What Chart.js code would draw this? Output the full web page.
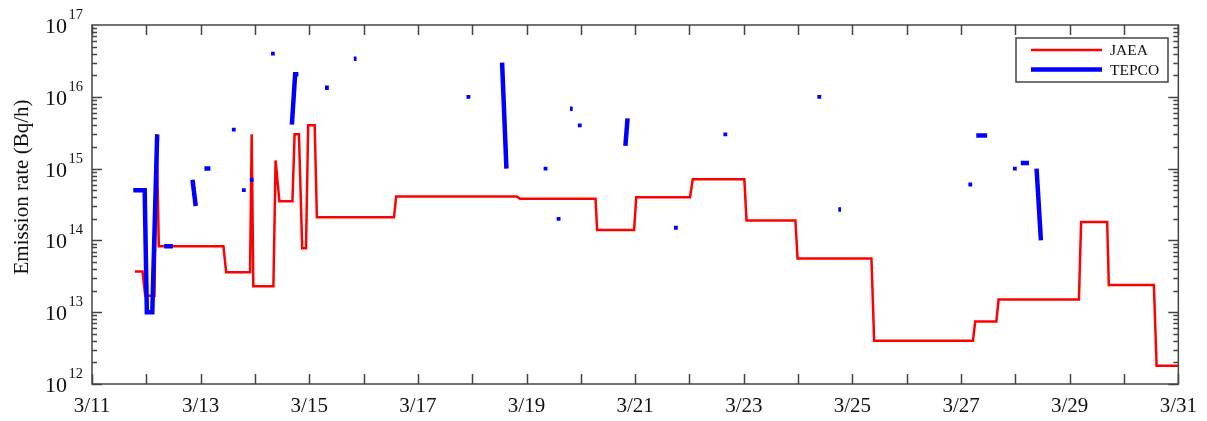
<!DOCTYPE html>
<html>
<head>
<meta charset="utf-8">
<script src="https://cdn.jsdelivr.net/npm/chart.js@4.4.3/dist/chart.umd.min.js"></script>
<style>
  html, body { margin: 0; padding: 0; background: #fff; }
  #wrap { width: 1207px; height: 421px; }
</style>
</head>
<body>
<div id="wrap"><canvas id="emissionChart" width="1207" height="421"></canvas></div>
<script>
// days of March (fractional), emission rate in Bq/h
const jaeaDay = [11.79, 11.93, 11.98, 12.15, 12.19, 12.23, 13.42, 13.47, 13.91, 13.94, 13.97,
  14.34, 14.38, 14.45, 14.69, 14.73, 14.81, 14.87, 14.94, 14.98, 15.10, 15.14, 16.56, 16.60,
  18.82, 18.88, 20.27, 20.30, 20.98, 21.02, 22.01, 22.06, 23.01, 23.05, 23.95, 23.99, 25.35,
  25.40, 27.22, 27.26, 27.65, 27.69, 29.17, 29.21, 29.69, 29.72, 30.55, 30.60, 31.0];
const jaeaRate = [3.7e13, 3.7e13, 1.7e13, 1.7e13, 3.0e15, 8.3e13, 8.3e13, 3.6e13, 3.6e13, 3.0e15, 2.3e13,
  2.3e13, 1.3e15, 3.5e14, 3.5e14, 3.0e15, 3.0e15, 7.8e13, 7.8e13, 4.0e15, 4.0e15, 2.1e14, 2.1e14, 4.1e14,
  4.1e14, 3.8e14, 3.8e14, 1.4e14, 1.4e14, 4.0e14, 4.0e14, 7.1e14, 7.1e14, 1.9e14, 1.9e14, 5.6e13, 5.6e13,
  4.0e12, 4.0e12, 7.4e12, 7.4e12, 1.5e13, 1.5e13, 1.8e14, 1.8e14, 2.4e13, 2.4e13, 1.8e12, 1.8e12];

// null separates TEPCO estimates
const tepcoDay = [11.76, 11.97, 12.01, 12.11, 12.20, null,
  12.33, 12.49, null, 12.85, 12.91, null, 13.07, 13.18, null,
  13.61, null, 13.795, null, 13.94, null, 14.33, null,
  14.68, 14.74, 14.80, null, 15.29, 15.36, null, 15.82, 15.87, null,
  17.93, null, 18.55, 18.63, null, 19.35, null, 19.59, null,
  19.80, 19.85, null, 19.98, null, 20.86, 20.82, null, 21.75, null,
  22.66, null, 24.39, null, 24.74, 24.79, null, 27.17, null,
  27.28, 27.48, null, 27.99, null, 28.10, 28.25, null, 28.39, 28.47];
const tepcoRate = [5e14, 5e14, 1e13, 1e13, 3e15, null,
  8.3e13, 8.3e13, null, 7e14, 3e14, null, 1e15, 1e15, null,
  3.5e15, null, 5e14, null, 7e14, null, 4e16, null,
  4.1e15, 2.06e16, 2.06e16, null, 1.34e16, 1.34e16, null, 3.4e16, 3.4e16, null,
  1e16, null, 3e16, 1e15, null, 1e15, null, 2e14, null,
  6.8e15, 6.8e15, null, 4e15, null, 5e15, 2.07e15, null, 1.5e14, null,
  3e15, null, 1e16, null, 2.7e14, 2.7e14, null, 6e14, null,
  2.9e15, 2.9e15, null, 1e15, null, 1.2e15, 1.2e15, null, 1e15, 1e14];

const dayTicks = [11, 12, 13, 14, 15, 16, 17, 18, 19, 20, 21, 22, 23, 24, 25, 26, 27, 28, 29, 30, 31];
const labelDays = [11, 13, 15, 17, 19, 21, 23, 25, 27, 29, 31];
const labelText = ['3/11', '3/13', '3/15', '3/17', '3/19', '3/21', '3/23', '3/25', '3/27', '3/29', '3/31'];
const decades = [12, 13, 14, 15, 16, 17];

const SERIF = "'Liberation Serif', 'Times New Roman', serif";
const AXIS = '#444';

const isolatedRadius = (ctx) => {
  const d = ctx.dataset.data, i = ctx.dataIndex;
  if (!d[i] || d[i].y == null) return 0;
  const prev = d[i - 1], next = d[i + 1];
  return (!prev || prev.y == null) && (!next || next.y == null) ? 2.7 : 0;
};

// frame, inward ticks, 10^n labels, y title and boxed legend
const axisDecor = {
  id: 'axisDecor',
  afterDatasetsDraw(chart) {
    const { ctx, chartArea: a, scales: { x, y } } = chart;
    ctx.save();
    ctx.strokeStyle = AXIS;
    ctx.lineWidth = 1.5;
    ctx.strokeRect(a.left, a.top, a.right - a.left, a.bottom - a.top);

    ctx.beginPath();
    dayTicks.forEach(d => {
      const px = Math.round(x.getPixelForValue(d)) + 0.5;
      ctx.moveTo(px, a.bottom); ctx.lineTo(px, a.bottom - 10);
      ctx.moveTo(px, a.top); ctx.lineTo(px, a.top + 10);
    });
    decades.slice(0, -1).forEach(e => {
      for (let m = 1; m < 10; m++) {
        const py = Math.round(y.getPixelForValue(m * 10 ** e)) + 0.5;
        const len = m === 1 ? 10 : 5;
        ctx.moveTo(a.left, py); ctx.lineTo(a.left + len, py);
        ctx.moveTo(a.right, py); ctx.lineTo(a.right - len, py);
      }
    });
    ctx.stroke();

    ctx.fillStyle = '#111';
    decades.forEach(e => {
      const py = y.getPixelForValue(10 ** e);
      ctx.font = `22px ${SERIF}`;
      ctx.textAlign = 'right';
      ctx.textBaseline = 'alphabetic';
      ctx.fillText('10', 67, py + 8);
      ctx.font = `14.5px ${SERIF}`;
      ctx.textAlign = 'left';
      ctx.fillText(String(e), 68.5, py - 6);
    });

    ctx.save();
    ctx.translate(22, 187);
    ctx.rotate(-Math.PI / 2);
    ctx.font = `21px ${SERIF}`;
    ctx.textAlign = 'center';
    ctx.textBaseline = 'middle';
    ctx.fillText('Emission rate (Bq/h)', 0, 0);
    ctx.restore();

    // legend
    ctx.fillStyle = '#fff';
    ctx.fillRect(1016, 38, 152, 44);
    ctx.strokeStyle = AXIS;
    ctx.lineWidth = 1.5;
    ctx.strokeRect(1016, 38, 152, 44);
    const rows = [50, 69.5];
    chart.data.datasets.forEach((ds, i) => {
      ctx.beginPath();
      ctx.strokeStyle = ds.borderColor;
      ctx.lineWidth = ds.borderWidth;
      ctx.moveTo(1031, rows[i]);
      ctx.lineTo(1102, rows[i]);
      ctx.stroke();
      ctx.fillStyle = '#111';
      ctx.font = `15.5px ${SERIF}`;
      ctx.textAlign = 'left';
      ctx.textBaseline = 'middle';
      ctx.fillText(ds.label, 1110, rows[i] + 1);
    });
    ctx.restore();
  }
};

new Chart(document.getElementById('emissionChart'), {
  type: 'line',
  data: {
    datasets: [{
      label: 'JAEA',
      data: jaeaDay.map((d, i) => ({ x: d, y: jaeaRate[i] })),
      borderColor: '#ff0000',
      borderWidth: 2.5,
      pointRadius: 0,
      tension: 0,
      borderJoinStyle: 'miter',
      order: 1
    }, {
      label: 'TEPCO',
      data: tepcoDay.map((d, i) => ({ x: d, y: tepcoRate[i] })),
      borderColor: '#0000ff',
      backgroundColor: '#0000ff',
      borderWidth: 4.5,
      pointStyle: 'rect',
      pointRadius: isolatedRadius,
      pointBorderWidth: 0,
      pointBackgroundColor: '#0000ff',
      tension: 0,
      spanGaps: false,
      borderJoinStyle: 'miter',
      order: 0
    }]
  },
  options: {
    responsive: false,
    animation: false,
    devicePixelRatio: 1,
    layout: { padding: { left: 0, right: 25, top: 25, bottom: 0 } },
    plugins: {
      legend: { display: false },
      tooltip: { enabled: false }
    },
    scales: {
      x: {
        type: 'linear',
        min: 11,
        max: 31,
        grid: { display: false, drawTicks: false },
        border: { display: false },
        ticks: {
          stepSize: 1,
          autoSkip: false,
          maxRotation: 0,
          padding: 10,
          color: '#111',
          font: { family: SERIF, size: 21 },
          callback: v => {
            const i = labelDays.indexOf(v);
            return i >= 0 ? labelText[i] : '';
          }
        },
        afterFit: s => { s.height = 37; }
      },
      y: {
        type: 'logarithmic',
        min: 1e12,
        max: 1e17,
        grid: { display: false, drawTicks: false },
        border: { display: false },
        ticks: { callback: () => '' },
        afterFit: s => { s.width = 92; }
      }
    }
  },
  plugins: [axisDecor]
});
</script>
</body>
</html>
